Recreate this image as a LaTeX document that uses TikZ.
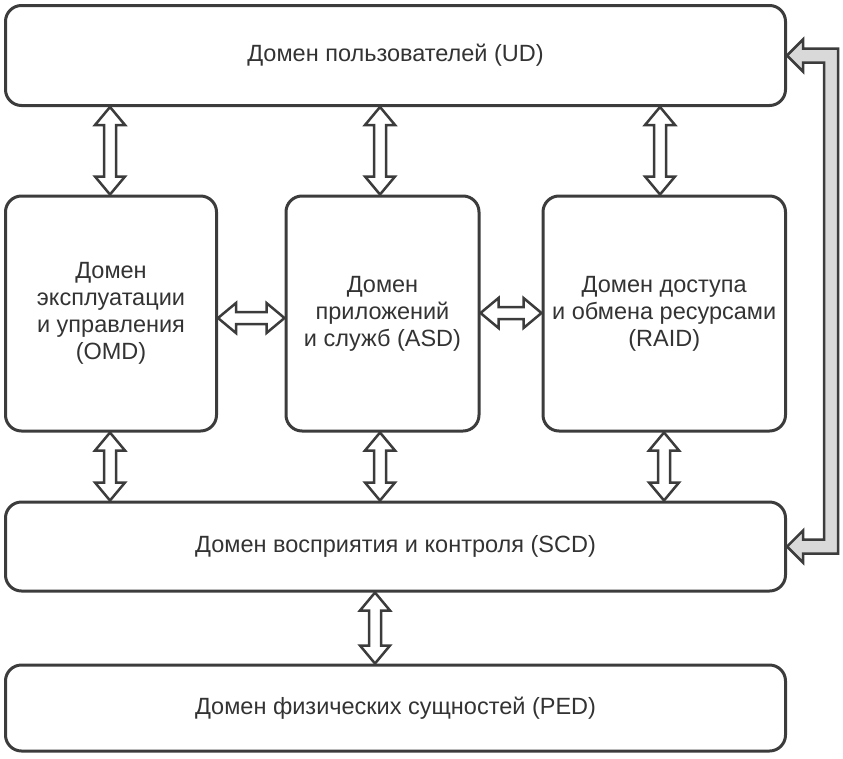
\documentclass[tikz,border=0pt]{standalone}
\usepackage{fontspec}
\setmainfont{Liberation Sans}
\usetikzlibrary{calc}
\definecolor{linec}{HTML}{3C3C3C}
\definecolor{textc}{HTML}{333333}
\definecolor{grayfill}{HTML}{D9D9D9}
\tikzset{
  box/.style={draw=linec, line width=3pt, rounded corners=16pt, text=textc, align=center, inner sep=0pt,
    font=\fontsize{23.5}{27}\selectfont},
  barrow/.style={draw=linec, line width=2.5pt, fill=white, line join=miter},
  sidearrow/.style={draw=linec, line width=2.5pt, fill=grayfill, line join=miter}
}
\newcommand\vdarr[3]{%
  \path[barrow] let \p1=(#2.south), \p2=(#3.north) in
    (#1pt,\y1) -- (#1pt+15pt,\y1-18pt) -- (#1pt+6pt,\y1-18pt) -- (#1pt+6pt,\y2+18pt)
    -- (#1pt+15pt,\y2+18pt) -- (#1pt,\y2) -- (#1pt-15pt,\y2+18pt) -- (#1pt-6pt,\y2+18pt)
    -- (#1pt-6pt,\y1-18pt) -- (#1pt-15pt,\y1-18pt) -- cycle;}
\newcommand\hdarr[3]{%
  \path[barrow] let \p1=(#2.east), \p2=(#3.west) in
    (\x1,-#1pt) -- (\x1+18pt,-#1pt+15pt) -- (\x1+18pt,-#1pt+6pt) -- (\x2-18pt,-#1pt+6pt)
    -- (\x2-18pt,-#1pt+15pt) -- (\x2,-#1pt) -- (\x2-18pt,-#1pt-15pt) -- (\x2-18pt,-#1pt-6pt)
    -- (\x1+18pt,-#1pt-6pt) -- (\x1+18pt,-#1pt-15pt) -- cycle;}
\begin{document}
\begin{tikzpicture}[x=1pt,y=-1pt]
\useasboundingbox (0,0) rectangle (843,758);
\node[box, minimum width=780pt, minimum height=100pt] (ud) at (395.5,55.5) {Домен пользователей (UD)};
\node[box, minimum width=211pt, minimum height=235pt] (omd) at (111,313.5) {Домен\\эксплуатации\\и управления\\(OMD)};
\node[box, minimum width=193pt, minimum height=235pt] (asd) at (382.5,313.5) {Домен\\приложений\\и служб (ASD)};
\node[box, minimum width=242.5pt, minimum height=235pt] (raid) at (664.25,313.5) {Домен доступа\\и обмена ресурсами\\(RAID)};
\node[box, minimum width=780pt, minimum height=89pt] (scd) at (395.5,546.5) {Домен восприятия и контроля (SCD)};
\node[box, minimum width=780pt, minimum height=86pt] (ped) at (395.5,708) {Домен физических сущностей (PED)};
\vdarr{110}{ud}{omd}
\vdarr{380}{ud}{asd}
\vdarr{660}{ud}{raid}
\vdarr{110}{omd}{scd}
\vdarr{380}{asd}{scd}
\vdarr{664}{raid}{scd}
\vdarr{375}{scd}{ped}
\hdarr{318}{omd}{asd}
\hdarr{313}{asd}{raid}
\path[sidearrow] (ud.east) -- ($(ud.east)+(16,-16)$) -- ($(ud.east)+(16,-7)$) -- ($(ud.east)+(51,-7)$)
  -- ($(scd.east)+(51,7)$) -- ($(scd.east)+(16,7)$) -- ($(scd.east)+(16,16)$) -- (scd.east)
  -- ($(scd.east)+(16,-16)$) -- ($(scd.east)+(16,-7)$) -- ($(scd.east)+(37,-7)$)
  -- ($(ud.east)+(37,7)$) -- ($(ud.east)+(16,7)$) -- ($(ud.east)+(16,16)$) -- cycle;
\end{tikzpicture}
\end{document}
